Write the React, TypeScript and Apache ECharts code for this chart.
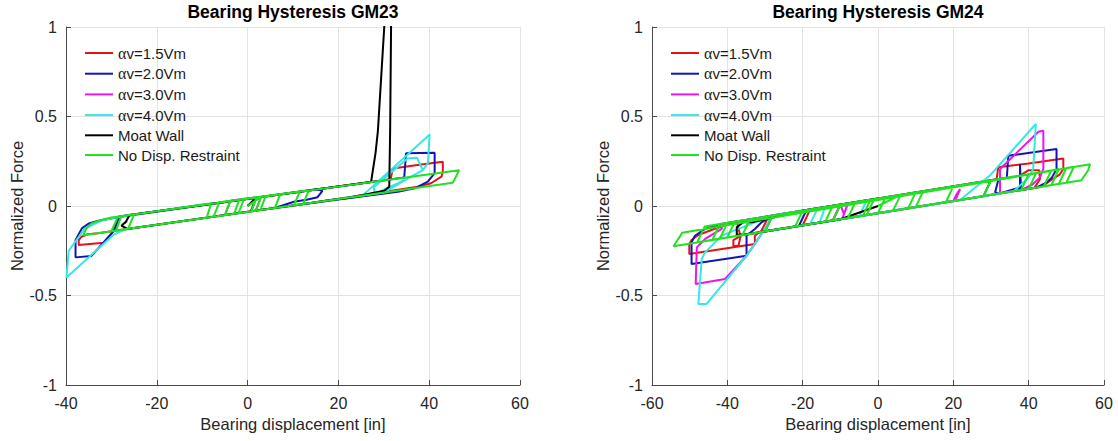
import React, { useEffect, useRef } from "react";
import * as echarts from "echarts";

type P = [number, number];

const FONT = "'Liberation Sans', Arial, Helvetica, sans-serif";

const seriesNames = ["αv=1.5Vm", "αv=2.0Vm", "αv=3.0Vm", "αv=4.0Vm", "Moat Wall", "No Disp. Restraint"];
const seriesColors = ["#e31414", "#1414b4", "#ee14ee", "#34e6e6", "#000000", "#22e022"];
const titles = ["Bearing Hysteresis GM23", "Bearing Hysteresis GM24"];
const xRanges: P[] = [[-40, 60], [-60, 60]];
const yRange: P = [-1, 1];
const xStep = 20;
const yStep = 0.5;

// ---------- GM23 ----------
const red23: P[] = [
  [12, 0.011], [-33, -0.152], [-35.2, -0.158], [-36.6, -0.172], [-37.2, -0.19], [-37.2, -0.218], [-31.7, -0.205],
  [-29.5, -0.14], [-28.3, -0.058], [31.5, 0.149], [32, 0.21], [37, 0.228], [43, 0.247], [43, 0.192], [42.7, 0.164],
  [40.4, 0.127], [37.5, 0.108], [15, 0.021],
];
const blue23: P[] = [
  [6, -0.011], [10.2, 0.024], [13, 0.035], [15.4, 0.049], [16.5, 0.085], [15.2, 0.094],
  [-28, -0.06], [-32.8, -0.082], [-35, -0.098], [-36.5, -0.125], [-37.9, -0.19], [-37.9, -0.287], [-34.4, -0.279],
  [-29.5, -0.14], [-28.2, -0.058], [34.5, 0.159], [34.9, 0.294], [41.2, 0.298], [41.2, 0.183],
  [39.7, 0.136], [36.8, 0.099], [33.1, 0.08], [12, 0.01],
];
const magenta23: P[] = [
  [0, 0], [3, 0.052], [1.8, -0.026], [-5, -0.051], [-3.8, 0.029], [2, 0.049],
];
const cyan23: P[] = [
  [-10, 0.008], [-28.4, -0.062], [-31.8, -0.078], [-35.8, -0.125], [-38, -0.2], [-39.4, -0.25], [-39.9, -0.4],
  [-29.5, -0.16], [-27, -0.13], [25.3, 0.058], [40.1, 0.4], [39.7, 0.239], [38.6, 0.2], [36, 0.164], [33.1, 0.127],
  [28, 0.068], [27.8, 0.105], [35.2, 0.265], [37.3, 0.27], [38.6, 0.2], [36, 0.164], [30, 0.075], [10, 0.003],
];
const black23: P[] = [
  [0, 0], [2, 0.049], [0.7, -0.03], [-26.5, -0.128], [-27.8, -0.11], [-26.6, -0.085], [-27.6, -0.105],
  [-26.8, -0.088], [-26, -0.05], [27.2, 0.134], [27.6, 0.2], [28.2, 0.3], [28.7, 0.42], [30.1, 1.0], [30.4, 1.6],
  [31.6, 1.6], [31.6, 1.0], [31.4, 0.425], [31.2, 0.108], [30.1, 0.085], [22, 0.045], [18.3, 0.034], [11, 0.006],
  [0.3, -0.03],
];
const green23: P[] = [
  [0, 0], [3, 0.052], [1.8, -0.026], [-5, -0.051], [-3.8, 0.029], [2, 0.049], [0.8, -0.03], [-7.5, -0.06],
  [-6.2, 0.021], [4, 0.056], [2.8, -0.023], [-3, -0.044], [-1.8, 0.036], [13.5, 0.088], [12.2, 0.011], [6, -0.011],
  [7.2, 0.066], [11.5, 0.081], [10.2, 0.004], [-30, -0.141], [-28.6, -0.062], [-25, -0.045], [-26.3, -0.128],
  [-36.2, -0.163], [-35.5, -0.125], [-34.4, -0.097], [-32.5, -0.08], [-30, -0.064], [46.6, 0.2], [45.2, 0.13],
  [-29, -0.137], [-27.8, -0.058], [-8, 0.015], [-9, -0.065], [-2, -0.04], [-0.8, 0.039], [0, 0.042],
];

// ---------- GM24 ----------
const red24: P[] = [
  [-10, 0.008], [-12, -0.081], [-20, -0.108], [-18, -0.019],
  [31.5, 0.149], [31.9, 0.216], [40, 0.238], [49.2, 0.266], [49.2, 0.207], [48.2, 0.175], [45.7, 0.141], [43.5, 0.108],
  [38, 0.089], [37.7, 0.17], [40, 0.2], [42.8, 0.2], [43, 0.15], [41.5, 0.101],
  [-36, -0.162], [-38.4, -0.19], [-38.4, -0.225], [-37, -0.22], [-36.5, -0.17], [-37.5, -0.086],
  [-43.7, -0.13], [-47.7, -0.162], [-49.5, -0.19], [-50.1, -0.212], [-50.1, -0.268], [-32.7, -0.212],
  [-32.7, -0.166], [-31, -0.14], [-29, -0.057], [-10, 0.008],
];
const blue24: P[] = [
  [-14, -0.088], [-21, -0.112], [-19, -0.023], [34.2, 0.158], [34.6, 0.281], [47.4, 0.318], [47.4, 0.207],
  [46.2, 0.16], [44.8, 0.132], [42, 0.103], [37.7, 0.088], [37.7, 0.235], [37.9, 0.104], [32, 0.069],
  [31.1, 0.077], [32, 0.151], [30, 0.144], [28, 0.055], [-30, -0.142], [-28, -0.053], [-41.5, -0.101],
  [-45.9, -0.128], [-48.6, -0.166], [-49.5, -0.203], [-49.5, -0.324], [-34.9, -0.278], [-34.9, -0.166],
  [-32.7, -0.128], [-30.9, -0.091], [-28, -0.053], [-14, -0.006],
];
const magenta24: P[] = [
  [-12, -0.081], [-10, 0.008], [-9, -0.045], [-8, 0.015], [-9.5, -0.072], [20, 0.028], [20.9, 0.067],
  [21.8, 0.095], [20.5, 0.03], [32.4, 0.07], [32.4, 0.207],
  [42.6, 0.415], [43.9, 0.421], [43.9, 0.207], [43, 0.16], [41, 0.12], [38, 0.089], [-30, -0.142],
  [-28, -0.053], [-41.5, -0.1], [-41.5, -0.128], [-45.9, -0.184], [-48.1, -0.231], [-48.4, -0.436],
  [-40.6, -0.408], [-34.9, -0.278], [-30, -0.128], [-28, -0.053], [-12, 0.001],
];
const cyan24: P[] = [
  [-3, 0.032], [-5, -0.057], [-18, -0.1], [-16, -0.012], [-14, -0.005],
  [-15.5, -0.092], [21.8, 0.034], [29.7, 0.17], [41.9, 0.458], [41.2, 0.207], [40, 0.16], [38, 0.12],
  [36, 0.082], [-30, -0.142], [-28, -0.053], [-37.1, -0.128], [-41.5, -0.166], [-45.9, -0.259],
  [-46.8, -0.296], [-47.7, -0.547], [-45.5, -0.547], [-34.9, -0.278], [-30, -0.128], [-28, -0.053], [-3, 0.032],
];
const black24: P[] = [
  [0, 0], [-10, -0.074], [-33, -0.152], [-37.5, -0.162], [-37.5, -0.119], [-35.8, -0.091], [-33.5, -0.091],
  [-20, -0.026], [0, 0.042],
];
const green24: P[] = [
  [0, 0], [6, 0.062], [4, -0.026], [-8, -0.067], [-6, 0.022], [12, 0.083], [10, -0.006], [-14, -0.088],
  [-12, 0.001], [20, 0.11], [18, 0.021], [-22, -0.115], [-20, -0.026], [30, 0.144], [28, 0.055],
  [-30, -0.142], [-28, -0.053], [40, 0.178], [38, 0.089], [-42, -0.183], [-40, -0.094], [48, 0.205],
  [46, 0.116], [-54.3, -0.225], [-53.5, -0.2], [-52, -0.15], [56.3, 0.233], [55.8, 0.2], [54, 0.144],
  [48, 0.123], [50, 0.212], [52, 0.219], [50, 0.13], [44, 0.11], [46, 0.198], [48, 0.205], [46, 0.116],
  [40, 0.096], [42, 0.185], [40, 0.096], [-36, -0.162], [-34, -0.074], [-10, 0.008], [-12, -0.081],
  [-48, -0.203], [-46, -0.114], [-38, -0.087], [-40, -0.176], [-44, -0.19], [-42, -0.101], [-20, -0.026],
  [-22, -0.115], [-30, -0.142], [-28, -0.053], [10, 0.076], [8, -0.013], [-4, -0.054], [-2, 0.035],
  [2, 0.049], [0, -0.04], [-3, -0.05], [-1, 0.039], [0, 0.042],
];

const plotData: P[][][] = [
  [red23, blue23, magenta23, cyan23, black23, green23],
  [red24, blue24, magenta24, cyan24, black24, green24],
];

const gridBoxes = [
  { left: 66, top: 27, width: 454, height: 358 },
  { left: 652, top: 27, width: 452, height: 358 },
];

const axisColor = "#4a4a4a";
const textColor = "#262626";

function buildOption() {
  const xAxis = gridBoxes.map((_, gi) => ({
    type: "value",
    gridIndex: gi,
    min: xRanges[gi][0],
    max: xRanges[gi][1],
    interval: xStep,
    name: "Bearing displacement [in]",
    nameLocation: "middle",
    nameGap: 30,
    nameTextStyle: { fontSize: 16.5, color: textColor, fontFamily: FONT },
    axisLine: { onZero: false, lineStyle: { color: axisColor, width: 1 } },
    axisTick: { inside: true, length: 5, lineStyle: { color: axisColor } },
    axisLabel: { fontSize: 16, color: textColor, margin: 10, fontFamily: FONT },
    splitLine: { show: true, lineStyle: { color: "#e3e3e3", width: 1 } },
  }));
  const yAxis = gridBoxes.map((_, gi) => ({
    type: "value",
    gridIndex: gi,
    min: yRange[0],
    max: yRange[1],
    interval: yStep,
    name: "Normalized Force",
    nameLocation: "middle",
    nameGap: 40,
    nameTextStyle: { fontSize: 16.5, color: textColor, fontFamily: FONT },
    axisLine: { onZero: false, lineStyle: { color: axisColor, width: 1 } },
    axisTick: { inside: true, length: 5, lineStyle: { color: axisColor } },
    axisLabel: { fontSize: 16, color: textColor, margin: 9, fontFamily: FONT },
    splitLine: { show: true, lineStyle: { color: "#e3e3e3", width: 1 } },
  }));
  const legend = gridBoxes.map((g) => ({
    orient: "vertical",
    left: g.left + 19,
    top: 45,
    padding: 0,
    itemGap: 4.7,
    itemWidth: 28,
    itemHeight: 2,
    icon: "rect",
    selectedMode: false,
    data: seriesNames,
    formatter: (n: string) => (n.charAt(0) === "α" ? "{a|α}" + n.slice(1) : n),
    textStyle: {
      fontSize: 15,
      color: "#1a1a1a",
      fontFamily: FONT,
      rich: { a: { fontFamily: "'Liberation Serif', serif", fontSize: 16, color: "#1a1a1a" } },
    },
  }));
  const series: any[] = [];
  plotData.forEach((set, gi) => {
    set.forEach((data, k) => {
      series.push({
        type: "line",
        name: seriesNames[k],
        xAxisIndex: gi,
        yAxisIndex: gi,
        data,
        symbol: "none",
        showSymbol: false,
        color: seriesColors[k],
        lineStyle: { color: seriesColors[k], width: 2 },
        clip: true,
        silent: true,
      });
    });
  });
  const graphic = gridBoxes.map((g, gi) => ({
    type: "text",
    x: g.left + g.width / 2,
    y: 12,
    style: {
      text: titles[gi],
      font: `bold 17.5px ${FONT}`,
      fill: "#000",
      align: "center",
      verticalAlign: "middle",
      textAlign: "center",
      textVerticalAlign: "middle",
    },
  }));
  return {
    animation: false,
    backgroundColor: "#ffffff",
    grid: gridBoxes,
    xAxis,
    yAxis,
    legend,
    graphic,
    series,
  };
}

export default function App() {
  const ref = useRef<HTMLDivElement>(null);
  useEffect(() => {
    document.body.style.margin = "0";
    if (!ref.current) return;
    const chart = echarts.init(ref.current, undefined, { renderer: "svg" });
    chart.setOption(buildOption() as any);
    return () => chart.dispose();
  }, []);
  return <div ref={ref} style={{ width: 1118, height: 441 }} />;
}
